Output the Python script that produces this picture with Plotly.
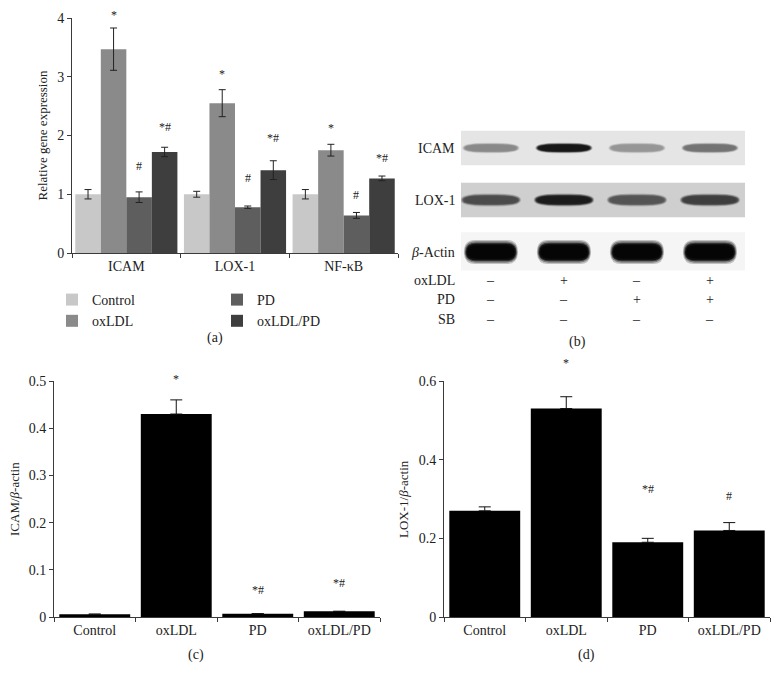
import plotly.graph_objects as go

# page body keeps its default 8px margin, so the figure is laid out in reference
# pixel coordinates shifted by that margin
PAGE_W, PAGE_H = 779, 682
OX = OY = 8
FW, FH = PAGE_W - 2 * OX, PAGE_H - 2 * OY
FONT = "Liberation Serif"
AXC = "#3a3a3a"
TXT = "#222"

# ---------------- data ----------------
genes = ["ICAM", "LOX-1", "NF-κB"]
groups = ["Control", "oxLDL", "PD", "oxLDL/PD"]
group_colors = ["#c8c8c8", "#8a8a8a", "#5e5e5e", "#3e3e3e"]

# panel (a): relative gene expression per group (values for ICAM, LOX-1, NF-kB)
expr_control = [1.00, 1.00, 1.00]
expr_oxldl = [3.47, 2.55, 1.75]
expr_pd = [0.95, 0.78, 0.64]
expr_oxldl_pd = [1.72, 1.41, 1.27]
err_control = [0.08, 0.05, 0.08]
err_oxldl = [0.36, 0.23, 0.10]
err_pd = [0.09, 0.02, 0.05]
err_oxldl_pd = [0.08, 0.16, 0.04]
sig_oxldl = ["*", "*", "*"]
sig_pd = ["#", "#", "#"]
sig_oxldl_pd = ["*#", "*#", "*#"]
sig_y_oxldl = [4.05, 3.05, 2.12]
sig_y_pd = [1.48, 1.28, 0.98]
sig_y_oxldl_pd = [2.14, 1.95, 1.62]

# panel (b): western blot
lanes = [1, 2, 3, 4]
blot_rows = ["ICAM", "LOX-1", "<i>β</i>-Actin"]
band_icam = [0.40, 0.92, 0.34, 0.50]
band_lox1 = [0.68, 0.90, 0.64, 0.74]
band_actin = [1.0, 1.0, 1.0, 1.0]
treat_rows = ["oxLDL", "PD", "SB"]
treat_oxldl = ["–", "+", "–", "+"]
treat_pd = ["–", "–", "+", "+"]
treat_sb = ["–", "–", "–", "–"]

# panel (c): ICAM / beta-actin
icam_ratio = [0.006, 0.430, 0.007, 0.012]
icam_err = [0.0, 0.030, 0.0, 0.0]
icam_sig = ["", "*", "*#", "*#"]
icam_sig_y = [0, 0.505, 0.058, 0.072]

# panel (d): LOX-1 / beta-actin
lox_ratio = [0.27, 0.53, 0.19, 0.22]
lox_err = [0.01, 0.03, 0.01, 0.02]
lox_sig = ["", "*", "*#", "#"]
lox_sig_y = [0, 0.645, 0.325, 0.307]

# ---------------- helpers (reference pixel -> paper) ----------------
def fx(px):
    return (px - OX) / FW


def fy(py):
    return (FH - (py - OY)) / FH


def dom_x(a, b):
    return [fx(a), fx(b)]


def dom_y(top, bottom):
    return [fy(bottom), fy(top)]


fig = go.Figure()

A_DOM = (18, 253)
C_DOM = (381, 617)


def sig_annot(x, y, ymax, px_per_unit, xref, yref, text):
    ya = min(y, ymax)
    fig.add_annotation(x=x, y=ya, xref=xref, yref=yref, text=text, showarrow=False,
                       xanchor="center", yanchor="middle",
                       yshift=(y - ya) * px_per_unit,
                       font=dict(family=FONT, size=12, color=TXT))


# ---- panel (a)
a_vals = [expr_control, expr_oxldl, expr_pd, expr_oxldl_pd]
a_errs = [err_control, err_oxldl, err_pd, err_oxldl_pd]
for i, g in enumerate(groups):
    fig.add_trace(go.Bar(
        x=genes, y=a_vals[i], name=g, marker_color=group_colors[i],
        marker_line_width=0,
        error_y=dict(type="data", array=a_errs[i], color="#222", thickness=1, width=3.5),
        xaxis="x", yaxis="y",
        legend="legend" if i < 2 else "legend2",
    ))

a_ppu = (A_DOM[1] - A_DOM[0]) / 4
a_sigs = [None, sig_oxldl, sig_pd, sig_oxldl_pd]
a_sig_y = [None, sig_y_oxldl, sig_y_pd, sig_y_oxldl_pd]
for i in range(1, 4):
    off = (-1.5 + i) * (0.94 / 4)
    for j in range(len(genes)):
        sig_annot(j + off, a_sig_y[i][j], 4, a_ppu, "x", "y", a_sigs[i][j])

# ---- panel (c)
fig.add_trace(go.Bar(
    x=groups, y=icam_ratio, marker_color="black", marker_line_width=0, width=0.87,
    error_y=dict(type="data", symmetric=False, array=icam_err, arrayminus=[0] * 4,
                 color="#111", thickness=1, width=6),
    xaxis="x2", yaxis="y2", showlegend=False,
))
c_ppu = (C_DOM[1] - C_DOM[0]) / 0.5
for j, g in enumerate(groups):
    if icam_sig[j]:
        sig_annot(g, icam_sig_y[j], 0.5, c_ppu, "x2", "y2", icam_sig[j])

# ---- panel (d)
fig.add_trace(go.Bar(
    x=groups, y=lox_ratio, marker_color="black", marker_line_width=0, width=0.87,
    error_y=dict(type="data", symmetric=False, array=lox_err, arrayminus=[0] * 4,
                 color="#111", thickness=1, width=6),
    xaxis="x4", yaxis="y4", showlegend=False,
))
d_ppu = (C_DOM[1] - C_DOM[0]) / 0.6
for j, g in enumerate(groups):
    if lox_sig[j]:
        sig_annot(g, lox_sig_y[j], 0.6, d_ppu, "x4", "y4", lox_sig[j])

# ---- panel (b) blot (invisible axes x3/y3, treatment table on y5)
fig.add_trace(go.Scatter(x=lanes, y=[0] * 4, mode="markers", marker_opacity=0,
                         xaxis="x3", yaxis="y3", showlegend=False, hoverinfo="skip"))
fig.add_trace(go.Scatter(x=lanes, y=[0] * 4, mode="markers", marker_opacity=0,
                         xaxis="x3", yaxis="y5", showlegend=False, hoverinfo="skip"))

shapes = []
strip_colors = ["#e5e5e5", "#cfcfcf", "#f5f5f5"]
strip_half = [0.33, 0.33, 0.38]
for r in range(3):
    shapes.append(dict(type="rect", xref="x3", yref="y3", x0=0.59, x1=4.48,
                       y0=r - strip_half[r], y1=r + strip_half[r],
                       fillcolor=strip_colors[r], line_width=0, layer="below"))


def stadium(xc, yc, hw, hh, rx):
    return (f"M {xc-hw+rx},{yc-hh} L {xc+hw-rx},{yc-hh} "
            f"Q {xc+hw},{yc-hh} {xc+hw},{yc} Q {xc+hw},{yc+hh} {xc+hw-rx},{yc+hh} "
            f"L {xc-hw+rx},{yc+hh} Q {xc-hw},{yc+hh} {xc-hw},{yc} "
            f"Q {xc-hw},{yc-hh} {xc-hw+rx},{yc-hh} Z")


band_sets = [band_icam, band_lox1, band_actin]
band_hw = [0.36, 0.38, 0.34]
band_hh = [0.07, 0.085, 0.16]
band_rx = [0.30, 0.30, 0.14]
# soft edges: several translucent layers shrinking toward the core
layers = [(1.09, 1.45, 0.22), (1.06, 1.28, 0.35), (1.03, 1.12, 0.55),
          (1.0, 1.0, 0.8), (0.95, 0.8, 1.0)]
for r, vals in enumerate(band_sets):
    for i, lane in enumerate(lanes):
        g = int(round(225 - 220 * vals[i]))
        col = f"rgb({g},{g},{g})"
        for sx, sy, op in layers:
            shapes.append(dict(type="path", xref="x3", yref="y3",
                               path=stadium(lane, r, band_hw[r] * sx, band_hh[r] * sy,
                                            band_rx[r] * sx),
                               fillcolor=col, opacity=op, line_width=0, layer="above"))

for r, lab in enumerate(blot_rows):
    fig.add_annotation(x=fx(457), xref="paper", y=r, yref="y3", text=lab, xanchor="right",
                       yanchor="middle", showarrow=False,
                       font=dict(family=FONT, size=14, color=TXT))

treat = [treat_oxldl, treat_pd, treat_sb]
for r, lab in enumerate(treat_rows):
    fig.add_annotation(x=fx(457), xref="paper", y=r, yref="y5", text=lab, xanchor="right",
                       yanchor="middle", showarrow=False,
                       font=dict(family=FONT, size=14, color=TXT))
    for i, lane in enumerate(lanes):
        fig.add_annotation(x=lane, xref="x3", y=r, yref="y5", text=treat[r][i],
                           xanchor="center", yanchor="middle", showarrow=False,
                           font=dict(family=FONT, size=14, color=TXT))

# ---- panel letters and y titles
for txt, xp, yp in [("(a)", 215, 338), ("(b)", 577, 342), ("(c)", 196, 655), ("(d)", 586, 655)]:
    fig.add_annotation(x=fx(xp), y=fy(yp), xref="paper", yref="paper", text=txt,
                       xanchor="center", yanchor="middle", showarrow=False,
                       font=dict(family=FONT, size=14, color=TXT))

for txt, xp, ymid in [("Relative gene expression", 42, 135.5),
                      ("ICAM/<i>β</i>-actin", 14, 499),
                      ("LOX-1/<i>β</i>-actin", 403, 499)]:
    fig.add_annotation(x=fx(xp), y=fy(ymid), xref="paper", yref="paper", text=txt,
                       textangle=-90, xanchor="center", yanchor="middle", showarrow=False,
                       font=dict(family=FONT, size=13, color=TXT))

fig.update_layout(shapes=shapes)

tick_font = dict(family=FONT, size=14, color=TXT)
common_x = dict(type="category", showline=True, linecolor=AXC, linewidth=1, ticks="outside",
                ticklen=4, tickcolor=AXC, tickson="boundaries", showgrid=False,
                tickfont=tick_font, zeroline=False, fixedrange=True, automargin=False)
common_y = dict(showline=True, linecolor=AXC, linewidth=1, ticks="outside", ticklen=4,
                tickcolor=AXC, showgrid=False, zeroline=False, tickfont=tick_font,
                fixedrange=True, automargin=False)
leg_common = dict(xanchor="left", yanchor="top", font=dict(family=FONT, size=14, color=TXT),
                  tracegroupgap=0, itemwidth=30, bgcolor="rgba(0,0,0,0)")

fig.update_layout(
    template="none",
    width=FW, height=FH,
    margin=dict(l=0, r=0, t=0, b=0, autoexpand=False),
    paper_bgcolor="white", plot_bgcolor="white",
    barmode="group", bargap=0.06, bargroupgap=0,
    font=dict(family=FONT, size=13, color=TXT),
    xaxis=dict(common_x, domain=dom_x(72, 398), anchor="y"),
    yaxis=dict(common_y, domain=dom_y(*A_DOM), range=[0, 4], dtick=1, anchor="x"),
    xaxis2=dict(common_x, domain=dom_x(54, 380), anchor="y2"),
    yaxis2=dict(common_y, domain=dom_y(*C_DOM), range=[0, 0.5], dtick=0.1, anchor="x2"),
    xaxis4=dict(common_x, domain=dom_x(444, 770), anchor="y4"),
    yaxis4=dict(common_y, domain=dom_y(*C_DOM), range=[0, 0.6], dtick=0.2, anchor="x4"),
    xaxis3=dict(domain=dom_x(461, 745), range=[0.59, 4.48], visible=False, anchor="y3",
                fixedrange=True),
    yaxis3=dict(domain=dom_y(122, 278), range=[2.5, -0.5], visible=False, anchor="x3",
                fixedrange=True),
    yaxis5=dict(domain=dom_y(270.5, 329), range=[2.5, -0.5], visible=False, anchor="x3",
                fixedrange=True),
    legend=dict(leg_common, x=fx(52), y=fy(284)),
    legend2=dict(leg_common, x=fx(217), y=fy(284)),
)

fig.write_html("out.html")
